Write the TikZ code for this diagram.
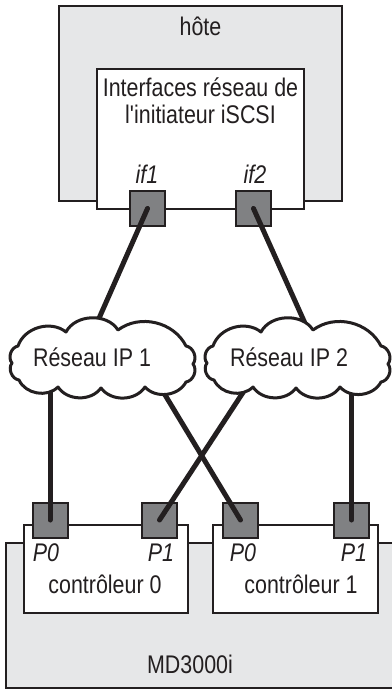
\documentclass[tikz,border=0pt]{standalone}
\usepackage{fontspec}
\setmainfont{Liberation Sans}[Ligatures=TeXOff, FakeStretch=0.84]
\definecolor{boxgray}{RGB}{230,231,232}
\definecolor{portgray}{RGB}{128,129,131}
\definecolor{ink}{RGB}{35,31,32}
\newcommand\netcloudpath{(18,346) to[bend left=55] (66,332) to[bend left=60] (118,330)
  to[bend left=50] (186,346) to[bend left=60] (193,364) to[bend left=60] (186,382)
  to[bend left=55] (145,387) to[bend left=55] (101,388) to[bend left=55] (58,387)
  to[bend left=55] (19,380) to[bend left=60] (12,363) to[bend left=60] cycle}
\begin{document}
\begin{tikzpicture}[x=1pt,y=-1pt,
  font=\fontsize{25.5}{30}\selectfont,
  graybox/.style={draw=ink, fill=boxgray, line width=2pt, inner sep=0},
  whitebox/.style={draw=ink, fill=white, line width=2pt, inner sep=0},
  port/.style={draw=ink, fill=portgray, line width=2pt, minimum size=35pt, inner sep=0},
  wire/.style={draw=ink, line width=5pt, line cap=round},
  cloudline/.style={draw=ink, fill=white, line width=3pt, line join=round},
  lbl/.style={anchor=base, inner sep=0, text=ink},
  plbl/.style={lbl, font=\fontsize{25.5}{30}\selectfont\itshape}]
\useasboundingbox (0,0) rectangle (391,690);
% host
\node[graybox, minimum width=283pt, minimum height=195pt] (host) at (200.5,103.5) {};
\node[whitebox, minimum width=207pt, minimum height=140pt] (ini) at (200.5,139) {};
\node[port] (if1) at (147.5,208.5) {};
\node[port] (if2) at (253.5,208.5) {};
% storage
\node[graybox, minimum width=400pt, minimum height=145pt] (md) at (206,615.5) {};
\node[whitebox, minimum width=164pt, minimum height=88pt] (c0) at (106,569) {};
\node[whitebox, minimum width=165pt, minimum height=88pt] (c1) at (295.5,569) {};
\node[port] (c0p0) at (50,520) {};
\node[port] (c0p1) at (159.5,520) {};
\node[port] (c1p0) at (240.5,520) {};
\node[port] (c1p1) at (351.5,520) {};
% wire ends inside the clouds
\coordinate (n1a) at (85,350);
\coordinate (n2a) at (317,350);
\coordinate (n1b) at (50,365);
\coordinate (n1c) at (147,365);
\coordinate (n2c) at (261,365);
\coordinate (n2b) at (351.5,365);
\draw[wire] (if1.center) -- (n1a);
\draw[wire] (if2.center) -- (n2a);
\draw[wire] (c0p0.center) -- (n1b);
\draw[wire] (c1p0.center) -- (n1c);
\draw[wire] (c0p1.center) -- (n2c);
\draw[wire] (c1p1.center) -- (n2b);
% clouds
\path[cloudline] \netcloudpath;
\begin{scope}[xshift=195pt]
\path[cloudline] \netcloudpath;
\end{scope}
% labels
\node[lbl] (thost) at (200.5,36) {hôte};
\node[lbl] (tini1) at (200.5,97) {Interfaces réseau de};
\node[lbl] (tini2) at (200.5,124) {l'initiateur iSCSI};
\node[plbl] (tif1) at (147,183) {if1};
\node[plbl] (tif2) at (255,183) {if2};
\node[lbl] (tnet1) at (92,366.5) {Réseau IP 1};
\node[lbl] (tnet2) at (289,366.5) {Réseau IP 2};
\node[plbl] (tc0p0) at (46,561) {P0};
\node[plbl] (tc0p1) at (161,561) {P1};
\node[plbl] (tc1p0) at (243,561) {P0};
\node[plbl] (tc1p1) at (354,561) {P1};
\node[lbl] (tc0) at (105,593) {contrôleur 0};
\node[lbl] (tc1) at (301,593) {contrôleur 1};
\node[lbl] (tmd) at (190,673) {MD3000i};
\end{tikzpicture}
\end{document}
